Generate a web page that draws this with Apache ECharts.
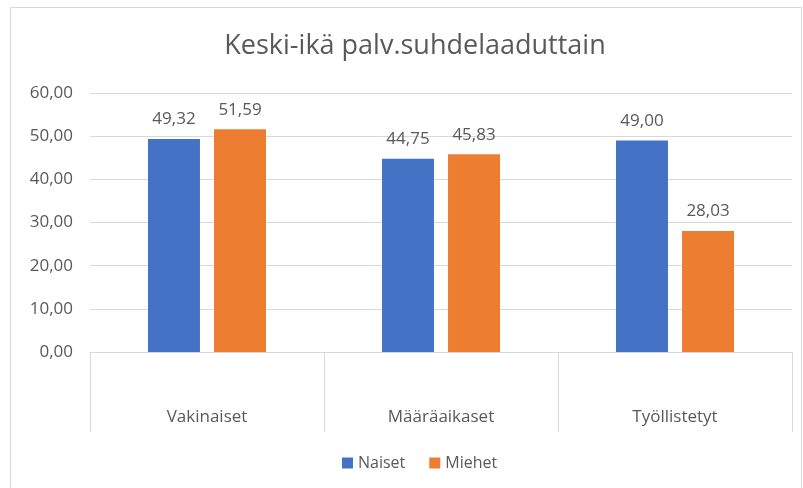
<!DOCTYPE html>
<html>
<head>
<meta charset="utf-8">
<script src="https://cdn.jsdelivr.net/npm/echarts@6/dist/echarts.min.js"></script>
<style>
  html, body { margin: 0; padding: 0; background: #fff; }
  #frame { position: absolute; left: 10px; top: 7px; width: 792px; height: 490px; border: 1px solid #d9d9d9; box-sizing: border-box; }
  #chart { position: absolute; left: 0; top: 0; width: 803px; height: 488px; }
</style>
</head>
<body>
<div id="frame"></div>
<div id="chart"></div>
<script>
var categories = ['Vakinaiset', 'Määräaikaset', 'Työllistetyt'];
var naiset = [49.32, 44.75, 49.00];
var miehet = [51.59, 45.83, 28.03];
var yTicks = [0, 10, 20, 30, 40, 50, 60];

var fi = function (v) { return Number(v).toFixed(2).replace('.', ','); };
var textFont = "'Open Sans', 'Noto Sans', sans-serif";
var fs = 17;

var chart = echarts.init(document.getElementById('chart'));
chart.setOption({
  animation: false,
  textStyle: { fontFamily: textFont },
  title: {
    text: 'Keski-ikä palv.suhdelaaduttain',
    left: 410,
    textAlign: 'center',
    top: 28,
    textStyle: { fontSize: 27, fontWeight: 'normal', color: '#595959', fontFamily: textFont }
  },
  legend: {
    bottom: 12,
    left: 337,
    itemWidth: 11,
    itemHeight: 11,
    itemGap: 24,
    icon: 'rect',
    textStyle: { fontSize: 16, color: '#595959', fontFamily: textFont },
    data: ['Naiset', 'Miehet']
  },
  grid: { left: 90, right: 11, top: 93, bottom: 136, containLabel: false },
  xAxis: {
    type: 'category',
    data: categories,
    axisLine: { lineStyle: { color: '#d9d9d9', width: 1 } },
    axisTick: { show: true, length: 80, lineStyle: { color: '#d9d9d9', width: 1 } },
    axisLabel: { margin: 57, fontSize: fs, color: '#595959', fontFamily: textFont }
  },
  yAxis: {
    type: 'value',
    min: yTicks[0],
    max: yTicks[yTicks.length - 1],
    interval: 10,
    axisLine: { show: false },
    axisTick: { show: false },
    splitLine: { lineStyle: { color: '#d9d9d9', width: 1 } },
    axisLabel: { fontSize: fs, color: '#595959', margin: 17, formatter: fi, fontFamily: textFont }
  },
  series: [
    {
      name: 'Naiset',
      type: 'bar',
      data: naiset,
      barWidth: 52,
      barGap: '27%',
      itemStyle: { color: '#4472C4' },
      label: { show: true, position: 'top', distance: 11, fontSize: fs, color: '#595959', formatter: function (p) { return fi(p.value); } }
    },
    {
      name: 'Miehet',
      type: 'bar',
      data: miehet,
      barWidth: 52,
      barGap: '27%',
      itemStyle: { color: '#ED7D31' },
      label: { show: true, position: 'top', distance: 11, fontSize: fs, color: '#595959', formatter: function (p) { return fi(p.value); } }
    }
  ]
});
</script>
</body>
</html>
